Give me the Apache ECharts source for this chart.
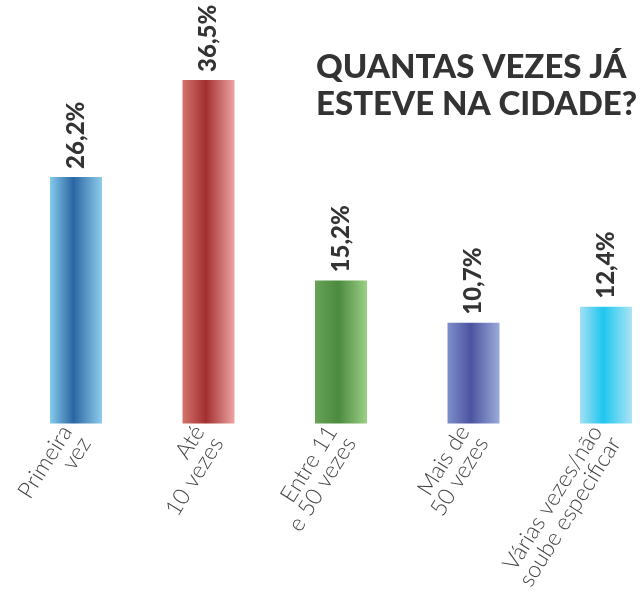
<!DOCTYPE html>
<html>
<head>
<meta charset="utf-8">
<script src="https://cdn.jsdelivr.net/npm/echarts@6/dist/echarts.min.js"></script>
<style>
  html, body { margin: 0; padding: 0; background: #fff; }
  #chart { width: 644px; height: 593px; }
</style>
</head>
<body>
<div id="chart"></div>
<script>
var categories = ["Primeira\nvez", "Até\n10 vezes", "Entre 11\ne 50 vezes", "Mais de\n50 vezes", "Várias vezes/não\nsoube especificar"];
var values = [26.2, 36.5, 15.2, 10.7, 12.4];
// edge / center / edge colours for each bar
var barColors = [
  ["#86caec", "#2a66a3", "#8ecdec"],
  ["#d4746d", "#a22f2f", "#efa3a3"],
  ["#67a357", "#4b8a3f", "#9bcf84"],
  ["#7e8ecb", "#4c53a0", "#9aabd9"],
  ["#a2e0f4", "#1fc6ef", "#abe4f5"]
];

var myChart = echarts.init(document.getElementById("chart"));

function gradient(c) {
  return new echarts.graphic.LinearGradient(0, 0, 1, 0, [
    { offset: 0, color: c[0] },
    { offset: 0.45, color: c[1] },
    { offset: 1, color: c[2] }
  ]);
}

var seriesData = values.map(function(v, i) {
  return { value: v, itemStyle: { color: gradient(barColors[i]) } };
});

myChart.setOption({
  title: {
    text: "QUANTAS VEZES JÁ\nESTEVE NA CIDADE?",
    left: 311,
    top: 44,
    textStyle: {
      fontFamily: "Lato",
      fontWeight: 900,
      fontSize: 33,
      lineHeight: 37,
      color: "#333"
    }
  },
  grid: {
    left: 76,
    right: 38,
    top: 47,
    bottom: 167
  },
  xAxis: {
    type: "category",
    data: categories,
    boundaryGap: false,
    axisLine: { show: false },
    axisTick: { show: false },
    axisLabel: {
      rotate: 58,
      margin: 10,
      interval: 0,
      fontFamily: "Lato",
      fontWeight: 300,
      fontSize: 23,
      lineHeight: 22,
      color: "#444",
      align: "right"
    }
  },
  yAxis: {
    type: "value",
    min: 0,
    max: 40,
    show: false,
    splitLine: { show: false }
  },
  series: [
    {
      name: "Quantas vezes",
      type: "bar",
      barWidth: 52,
      clip: false,
      data: seriesData,
      label: {
        show: true,
        position: "top",
        rotate: 90,
        align: "left",
        verticalAlign: "middle",
        distance: 8,
        fontFamily: "Lato",
        fontWeight: 900,
        fontSize: 24,
        color: "#333",
        formatter: function(p) {
          return p.value.toFixed(1).replace(".", ",") + "%";
        }
      }
    }
  ]
});
</script>
</body>
</html>
